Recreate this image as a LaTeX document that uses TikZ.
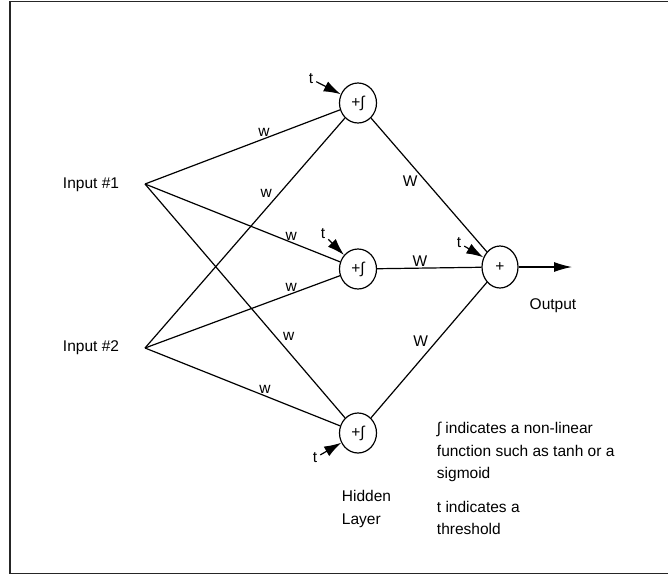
\documentclass[tikz,border=0pt]{standalone}
\usepackage{fontspec}
\setmainfont{Liberation Sans}
\usetikzlibrary{arrows.meta,positioning,shapes.geometric}
\tikzset{font=\fontsize{15.5}{22.5}\selectfont}
\tikzstyle{unit}=[ellipse,draw,line width=1.2pt,minimum width=37pt,minimum height=40pt,inner sep=0pt]
\tikzstyle{wt}=[inner sep=1.5pt]
\tikzstyle{tt}=[inner sep=2.5pt]
\tikzstyle{thr}=[-{Latex[length=17pt,width=11pt]}]
\tikzstyle{outarrow}=[-{Latex[length=18pt,width=10pt]}]

\begin{document}
\begin{tikzpicture}[x=1pt,y=-1pt,line width=1.2pt]
\useasboundingbox (0,0) rectangle (668,578);
\draw[line width=1.6pt,black!85] (668,1.5) -- (10,1.5) -- (10,573.5) -- (668,573.5);
\node (In1) at (91,185) {Input \#1};
\node (In2) at (91,348) {Input \#2};
\coordinate (A) at (145,184);
\coordinate (B) at (145,348);
\node[unit] (H1) at (358,103) {+∫};
\node[unit] (H2) at (358,269) {+∫};
\node[unit] (H3) at (358,433) {+∫};
\node[unit,minimum width=36pt,minimum height=42pt] (O) at (500,267) {+};
\coordinate (Out) at (572,267);
\node (OutText) at (553,306) {Output};
\node[tt] (t1) at (311,79) {t};
\node[tt] (t2) at (323,234) {t};
\node[tt] (t3) at (315,458) {t};
\node[tt] (t4) at (459,243) {t};
\node[align=left,anchor=west] (Hid) at (338,509) {Hidden\\Layer};
\node[align=left,anchor=west] (Note1) at (433,452) {∫ indicates a non-linear\\function such as tanh or a\\sigmoid};
\node[align=left,anchor=west] (Note2) at (433,518) {t indicates a\\threshold};
\path
(A) edge node[wt,pos=0.61,above]{w} (H1)
(A) edge node[wt,pos=0.75,above]{w} (H2)
(A) edge node[wt,pos=0.68,above right]{w} (H3)
(B) edge node[wt,pos=0.645,above left]{w} (H1)
(B) edge node[wt,pos=0.75,above]{w} (H2)
(B) edge node[wt,pos=0.615,above]{w} (H3)
(H1) edge node[wt,pos=0.42,below left]{W} (O)
(H2) edge node[wt,pos=0.41,above]{W} (O)
(H3) edge node[wt,pos=0.51,above left]{W} (O);
\draw[thr] (t1) -- (H1);
\draw[thr] (t2) -- (H2);
\draw[thr] (t3) -- (H3);
\draw[thr] (t4) -- (O);
\draw[outarrow] (O) -- (Out);
\end{tikzpicture}
\end{document}
